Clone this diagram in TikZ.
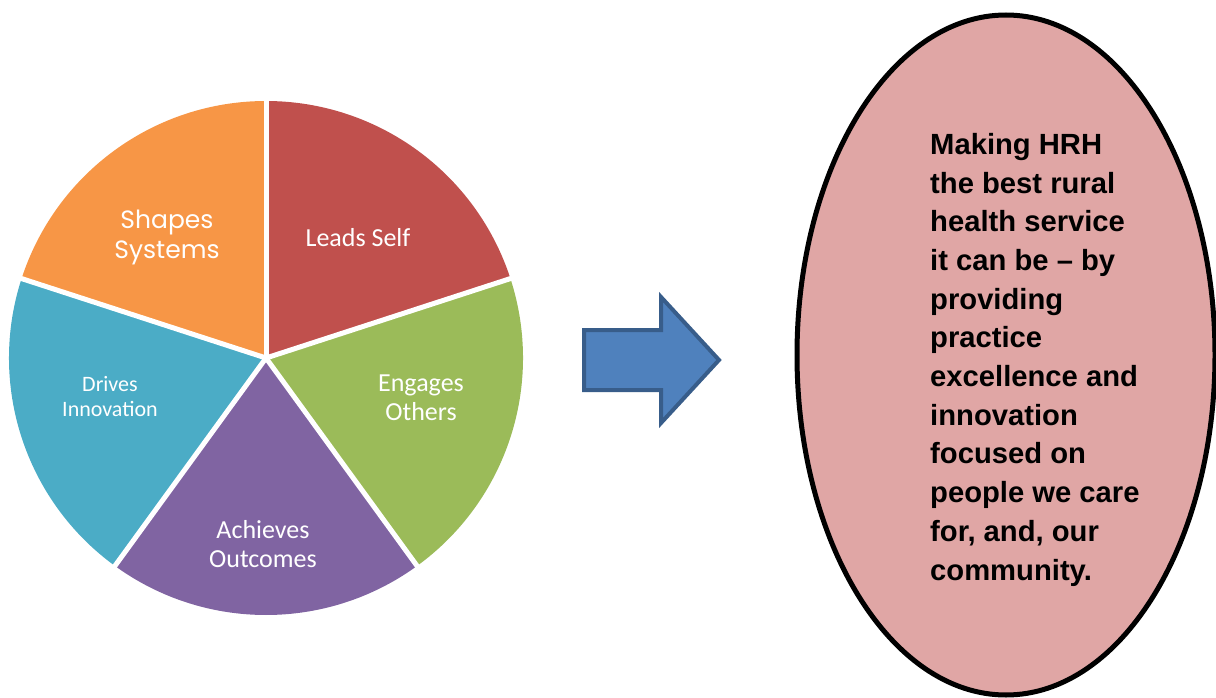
\documentclass[tikz,border=0pt]{standalone}
\usepackage{fontspec}
\usetikzlibrary{shapes.geometric}
\newfontfamily\calib{Carlito}
\newfontfamily\geo{Poppins}
\newfontfamily\arialfam{Liberation Sans}
\definecolor{leadsred}{HTML}{C0504D}
\definecolor{engagegreen}{HTML}{9BBB59}
\definecolor{achievepurple}{HTML}{8064A2}
\definecolor{driveteal}{HTML}{4BACC6}
\definecolor{shapeorange}{HTML}{F79646}
\definecolor{goalpink}{HTML}{E0A6A5}
\definecolor{arrowblue}{HTML}{4F81BD}
\definecolor{arrowedge}{HTML}{385D8A}
\tikzset{
  slice/.style={draw=white, line width=5pt, line join=round},
  slicelabel/.style={text=white, align=center, inner sep=0pt},
  goalshape/.style={ellipse, draw=black, line width=5pt, fill=goalpink,
    minimum width=418pt, minimum height=680pt, inner sep=0pt},
  blockarrow/.style={fill=arrowblue, draw=arrowedge, line width=4pt, line join=miter}
}
\begin{document}
\begin{tikzpicture}[x=1pt,y=-1pt]
\useasboundingbox (0,0) rectangle (1216,698);

% pie of five equal wedges
\coordinate (c) at (266,358);
\def\R{257}
\fill[leadsred]      (c) -- ++(-90:\R) arc[start angle=-90, end angle=-18, radius=\R] -- cycle;
\fill[engagegreen]   (c) -- ++(-18:\R) arc[start angle=-18, end angle=54,  radius=\R] -- cycle;
\fill[achievepurple] (c) -- ++(54:\R)  arc[start angle=54,  end angle=126, radius=\R] -- cycle;
\fill[driveteal]     (c) -- ++(126:\R) arc[start angle=126, end angle=198, radius=\R] -- cycle;
\fill[shapeorange]   (c) -- ++(198:\R) arc[start angle=198, end angle=270, radius=\R] -- cycle;
% white separators between wedges
\foreach \a in {-90,-18,54,126,198}
  \draw[slice] (c) -- ++(\a:\R+4);

% wedge labels
\node[slicelabel, font=\calib\fontsize{26}{29}\selectfont] (leads) at (358,238) {Leads Self};
\node[slicelabel, font=\calib\fontsize{26}{29}\selectfont] (engages) at (421,398) {Engages\\Others};
\node[slicelabel, font=\calib\fontsize{26}{29}\selectfont] (achieves) at (263,544) {Achieves\\Outcomes};
\node[slicelabel, font=\calib\fontsize{22}{25}\selectfont] (drives) at (110,397) {Drives\\Innovation};
\node[slicelabel, font=\geo\fontsize{25}{30}\selectfont] (shapes) at (167,237) {Shapes\\Systems};

% block arrow
\draw[blockarrow] (584,330) -- (661,330) -- (661,297) -- (719,360)
  -- (661,423) -- (661,390) -- (584,390) -- cycle;

% goal statement
\node[goalshape] (goal) at (1006,355) {};
\node[anchor=north west, inner sep=0pt, align=left,
      font=\arialfam\bfseries\fontsize{29.2}{38.7}\selectfont] (goaltext) at (930,133)
  {Making HRH\\the best rural\\health service\\it can be – by\\providing\\practice\\excellence and\\innovation\\focused on\\people we care\\for, and, our\\community.};
\end{tikzpicture}
\end{document}
